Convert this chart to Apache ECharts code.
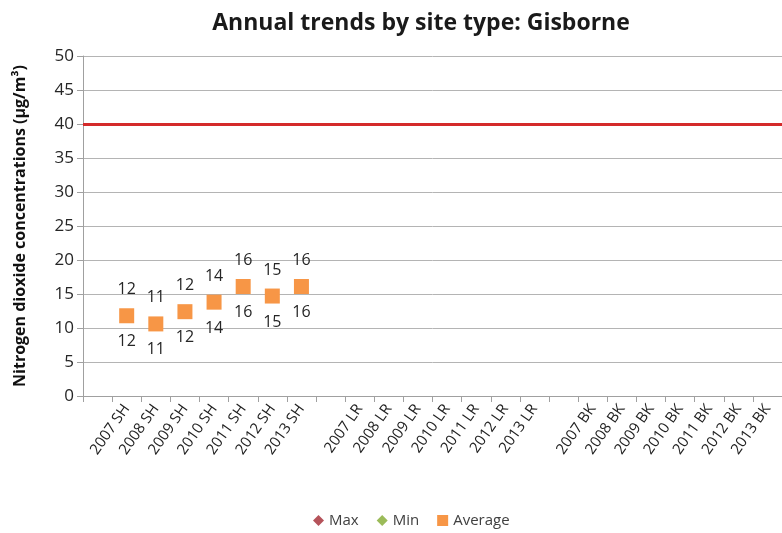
<!DOCTYPE html>
<html>
<head>
<meta charset="utf-8">
<script src="https://cdn.jsdelivr.net/npm/echarts@6/dist/echarts.min.js"></script>
<style>
  html, body { margin: 0; padding: 0; background: #ffffff; }
  #chart { width: 782px; height: 533px; }
</style>
</head>
<body>
<div id="chart"></div>
<script>
// Category axis: a blank slot before each site-type group
const years = ['2007', '2008', '2009', '2010', '2011', '2012', '2013'];
const siteTypes = ['SH', 'LR', 'BK'];
const categories = [];
siteTypes.forEach(function (t) {
  categories.push('');
  years.forEach(function (y) { categories.push(y + ' ' + t); });
});

// Annual NO2 statistics per site type (µg/m³); LR and BK have no data
const shMax = [11.8, 10.6, 12.4, 13.8, 16.1, 14.7, 16.1];
const shMin = [11.8, 10.6, 12.4, 13.8, 16.1, 14.7, 16.1];
const shAverage = [11.8, 10.6, 12.4, 13.8, 16.1, 14.7, 16.1];
const lrMax = [], lrMin = [], lrAverage = [];
const bkMax = [], bkMin = [], bkAverage = [];

// Annual guideline value
const guideline = 40;

const yTicks = [0, 5, 10, 15, 20, 25, 30, 35, 40, 45, 50];

function groupSeries(sh, lr, bk) {
  const out = [];
  [sh, lr, bk].forEach(function (g) {
    out.push('-');
    for (let i = 0; i < years.length; i++) {
      out.push(g[i] === undefined ? '-' : g[i]);
    }
  });
  return out;
}

const maxData = groupSeries(shMax, lrMax, bkMax);
const minData = groupSeries(shMin, lrMin, bkMin);
const avgData = groupSeries(shAverage, lrAverage, bkAverage);

const FONT = '"Open Sans", "Liberation Sans", sans-serif';
const roundLabel = function (p) { return Math.round(p.value); };

const chart = echarts.init(document.getElementById('chart'), null, { renderer: 'canvas' });
chart.setOption({
  animation: false,
  backgroundColor: '#ffffff',
  title: {
    text: 'Annual trends by site type: Gisborne',
    left: 416,
    textAlign: 'center',
    top: 7,
    textStyle: { fontFamily: FONT, fontSize: 23, fontWeight: 'bold', color: '#1a1a1a' }
  },
  legend: {
    bottom: 0,
    left: 308,
    itemGap: 18,
    itemWidth: 11,
    itemHeight: 11,
    textStyle: { fontFamily: FONT, fontSize: 15, color: '#404040' },
    data: [
      { name: 'Max', icon: 'diamond' },
      { name: 'Min', icon: 'diamond' },
      { name: 'Average', icon: 'rect' }
    ]
  },
  grid: { left: 83, top: 56, height: 340, width: 705, containLabel: false },
  xAxis: {
    type: 'category',
    data: categories,
    boundaryGap: true,
    axisLine: { lineStyle: { color: '#a0a0a0', width: 1 } },
    axisTick: { show: true, interval: 0, length: 6, lineStyle: { color: '#a0a0a0' } },
    axisLabel: {
      interval: 0,
      rotate: 55,
      margin: 10,
      fontFamily: FONT,
      fontSize: 15,
      color: '#222222'
    },
    splitLine: { show: false }
  },
  yAxis: {
    type: 'value',
    min: yTicks[0],
    max: yTicks[yTicks.length - 1],
    interval: 5,
    name: 'Nitrogen dioxide concentrations (µg/m³)',
    nameLocation: 'middle',
    nameRotate: 90,
    nameGap: 55,
    nameTextStyle: { fontFamily: FONT, fontSize: 16, fontWeight: 'bold', color: '#111111' },
    axisLine: { show: true, lineStyle: { color: '#a0a0a0', width: 1 } },
    axisTick: { show: true, length: 6, lineStyle: { color: '#a0a0a0' } },
    axisLabel: { fontFamily: FONT, fontSize: 17, color: '#262626', margin: 9 },
    splitLine: { show: true, lineStyle: { color: '#b4b4b4', width: 1 } }
  },
  series: [
    {
      name: 'Max',
      type: 'scatter',
      data: maxData,
      symbol: 'diamond',
      symbolSize: 10,
      itemStyle: { color: '#b5535a', opacity: 1 },
      label: {
        show: true,
        position: 'top',
        distance: 13,
        formatter: roundLabel,
        fontFamily: FONT,
        fontSize: 16,
        color: '#262626'
      },
      z: 2
    },
    {
      name: 'Min',
      type: 'scatter',
      data: minData,
      symbol: 'diamond',
      symbolSize: 10,
      itemStyle: { color: '#9bbb59', opacity: 1 },
      label: {
        show: true,
        position: 'bottom',
        distance: 13,
        formatter: roundLabel,
        fontFamily: FONT,
        fontSize: 16,
        color: '#262626'
      },
      z: 2
    },
    {
      name: 'Average',
      type: 'scatter',
      data: avgData,
      symbol: 'rect',
      symbolSize: 15,
      itemStyle: { color: '#f79646', opacity: 1 },
      z: 3,
      markLine: {
        silent: true,
        symbol: 'none',
        label: { show: false },
        lineStyle: { color: '#d42a2a', width: 3, type: 'solid' },
        data: [{ yAxis: guideline }]
      }
    }
  ]
});
</script>
</body>
</html>
